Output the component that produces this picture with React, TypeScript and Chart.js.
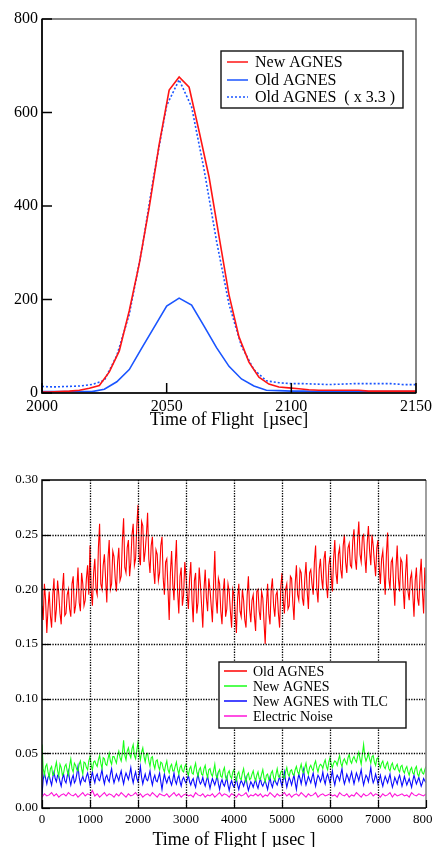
import React, { useEffect, useRef } from "react";
import { Chart, registerables } from "chart.js";

Chart.register(...registerables);

const SERIF = "'Liberation Serif', 'Times New Roman', serif";

// ---------------- Top chart: peak profile ----------------
const peakTimeNew = [
  1999, 2003, 2007, 2011, 2015, 2019, 2023, 2027, 2031, 2035, 2039, 2043, 2047,
  2051, 2055, 2059, 2063, 2067, 2071, 2075, 2079, 2083, 2087, 2091, 2095, 2099,
  2103, 2107, 2111, 2115, 2119, 2123, 2127, 2131, 2135, 2139, 2143, 2147, 2151,
];
const peakNewAgnes = [
  2, 2, 3, 4, 6, 10, 16, 45, 90, 176, 276, 397, 532,
  648, 676, 654, 560, 462, 335, 210, 120, 66, 34, 19, 13, 11,
  9, 7, 6, 6, 6, 6, 6, 4, 4, 4, 4, 4, 4,
];
const peakTimeOld = [
  2000, 2005, 2010, 2015, 2020, 2025, 2030, 2035, 2040, 2045, 2050, 2055, 2060,
  2065, 2070, 2075, 2080, 2085, 2090, 2095, 2100, 2105, 2110, 2115, 2120, 2125,
  2130, 2135, 2140, 2145, 2150,
];
const peakOldAgnes = [
  3, 3, 3, 3, 3, 8, 24, 50, 96, 141, 186, 203, 188,
  143, 97, 57, 30, 15, 6, 5, 4, 4, 3, 3, 3, 3,
  3, 3, 3, 3, 3,
];
const peakOldAgnesX33 = [
  14, 13, 14, 15, 18, 27, 80, 168, 305, 470, 615, 670, 612,
  478, 325, 190, 100, 50, 26, 22, 20, 20, 19, 18, 19, 20,
  20, 20, 20, 18, 18,
];
const peakXTicks = [2000, 2050, 2100, 2150];
const peakYTicks = [0, 200, 400, 600, 800];
const peakLegend = ["New AGNES", "Old AGNES", "Old AGNES  ( x 3.3 )"];

// ---------------- Bottom chart: noise ----------------
const noiseTimeFine = [
  0, 25, 50, 75, 100, 125, 150, 175, 200, 225, 250, 275, 300, 325, 350, 375, 400, 425, 450, 475,
  500, 525, 550, 575, 600, 625, 650, 675, 700, 725, 750, 775, 800, 825, 850, 875, 900, 925, 950, 975,
  1000, 1025, 1050, 1075, 1100, 1125, 1150, 1175, 1200, 1225, 1250, 1275, 1300, 1325, 1350, 1375, 1400, 1425, 1450, 1475,
  1500, 1525, 1550, 1575, 1600, 1625, 1650, 1675, 1700, 1725, 1750, 1775, 1800, 1825, 1850, 1875, 1900, 1925, 1950, 1975,
  2000, 2025, 2050, 2075, 2100, 2125, 2150, 2175, 2200, 2225, 2250, 2275, 2300, 2325, 2350, 2375, 2400, 2425, 2450, 2475,
  2500, 2525, 2550, 2575, 2600, 2625, 2650, 2675, 2700, 2725, 2750, 2775, 2800, 2825, 2850, 2875, 2900, 2925, 2950, 2975,
  3000, 3025, 3050, 3075, 3100, 3125, 3150, 3175, 3200, 3225, 3250, 3275, 3300, 3325, 3350, 3375, 3400, 3425, 3450, 3475,
  3500, 3525, 3550, 3575, 3600, 3625, 3650, 3675, 3700, 3725, 3750, 3775, 3800, 3825, 3850, 3875, 3900, 3925, 3950, 3975,
  4000, 4025, 4050, 4075, 4100, 4125, 4150, 4175, 4200, 4225, 4250, 4275, 4300, 4325, 4350, 4375, 4400, 4425, 4450, 4475,
  4500, 4525, 4550, 4575, 4600, 4625, 4650, 4675, 4700, 4725, 4750, 4775, 4800, 4825, 4850, 4875, 4900, 4925, 4950, 4975,
  5000, 5025, 5050, 5075, 5100, 5125, 5150, 5175, 5200, 5225, 5250, 5275, 5300, 5325, 5350, 5375, 5400, 5425, 5450, 5475,
  5500, 5525, 5550, 5575, 5600, 5625, 5650, 5675, 5700, 5725, 5750, 5775, 5800, 5825, 5850, 5875, 5900, 5925, 5950, 5975,
  6000, 6025, 6050, 6075, 6100, 6125, 6150, 6175, 6200, 6225, 6250, 6275, 6300, 6325, 6350, 6375, 6400, 6425, 6450, 6475,
  6500, 6525, 6550, 6575, 6600, 6625, 6650, 6675, 6700, 6725, 6750, 6775, 6800, 6825, 6850, 6875, 6900, 6925, 6950, 6975,
  7000, 7025, 7050, 7075, 7100, 7125, 7150, 7175, 7200, 7225, 7250, 7275, 7300, 7325, 7350, 7375, 7400, 7425, 7450, 7475,
  7500, 7525, 7550, 7575, 7600, 7625, 7650, 7675, 7700, 7725, 7750, 7775, 7800, 7825, 7850, 7875, 7900, 7925, 7950, 7975,
  8000,
];
const noiseOldAgnes = [
  0.185, 0.172, 0.205, 0.190, 0.160, 0.182, 0.198, 0.176, 0.165, 0.195, 0.210, 0.170, 0.182, 0.208, 0.195, 0.178, 0.168, 0.200, 0.215, 0.176,
  0.178, 0.195, 0.200, 0.182, 0.175, 0.205, 0.212, 0.178, 0.185, 0.200, 0.220, 0.188, 0.180, 0.215, 0.205, 0.185, 0.190, 0.210, 0.222, 0.195,
  0.240, 0.198, 0.185, 0.215, 0.228, 0.200, 0.195, 0.238, 0.260, 0.205, 0.200, 0.222, 0.232, 0.210, 0.188, 0.228, 0.245, 0.200, 0.205, 0.235,
  0.230, 0.210, 0.198, 0.225, 0.238, 0.208, 0.212, 0.245, 0.265, 0.220, 0.215, 0.238, 0.245, 0.212, 0.225, 0.250, 0.260, 0.222, 0.228, 0.258,
  0.277, 0.230, 0.222, 0.262, 0.258, 0.225, 0.235, 0.250, 0.270, 0.228, 0.215, 0.240, 0.248, 0.218, 0.205, 0.236, 0.232, 0.208, 0.215, 0.240,
  0.248, 0.210, 0.195, 0.225, 0.228, 0.200, 0.172, 0.215, 0.235, 0.205, 0.190, 0.222, 0.245, 0.198, 0.178, 0.212, 0.220, 0.185, 0.195, 0.225,
  0.212, 0.195, 0.182, 0.210, 0.225, 0.190, 0.170, 0.208, 0.215, 0.178, 0.188, 0.220, 0.205, 0.185, 0.165, 0.200, 0.218, 0.192, 0.180, 0.210,
  0.200, 0.185, 0.170, 0.205, 0.235, 0.192, 0.178, 0.210, 0.205, 0.180, 0.168, 0.198, 0.210, 0.175, 0.182, 0.205, 0.198, 0.180, 0.165, 0.200,
  0.195, 0.178, 0.160, 0.192, 0.205, 0.180, 0.175, 0.200, 0.190, 0.172, 0.165, 0.195, 0.212, 0.182, 0.170, 0.190, 0.195, 0.175, 0.162, 0.198,
  0.200, 0.180, 0.172, 0.198, 0.192, 0.170, 0.150, 0.185, 0.205, 0.178, 0.168, 0.200, 0.210, 0.185, 0.175, 0.195, 0.198, 0.178, 0.165, 0.202,
  0.215, 0.190, 0.178, 0.200, 0.205, 0.182, 0.185, 0.212, 0.210, 0.188, 0.172, 0.205, 0.222, 0.195, 0.190, 0.218, 0.215, 0.192, 0.185, 0.210,
  0.225, 0.198, 0.182, 0.215, 0.218, 0.205, 0.195, 0.225, 0.240, 0.200, 0.188, 0.218, 0.228, 0.210, 0.200, 0.228, 0.235, 0.205, 0.192, 0.222,
  0.230, 0.212, 0.198, 0.228, 0.245, 0.215, 0.205, 0.232, 0.238, 0.218, 0.210, 0.240, 0.250, 0.225, 0.215, 0.238, 0.242, 0.222, 0.220, 0.245,
  0.255, 0.228, 0.218, 0.245, 0.262, 0.232, 0.225, 0.248, 0.250, 0.230, 0.215, 0.242, 0.258, 0.235, 0.222, 0.250, 0.240, 0.225, 0.212, 0.238,
  0.245, 0.220, 0.205, 0.228, 0.235, 0.215, 0.195, 0.232, 0.252, 0.210, 0.200, 0.225, 0.228, 0.205, 0.185, 0.220, 0.240, 0.210, 0.198, 0.228,
  0.225, 0.200, 0.182, 0.215, 0.232, 0.198, 0.190, 0.210, 0.215, 0.195, 0.175, 0.208, 0.220, 0.192, 0.185, 0.212, 0.228, 0.198, 0.178, 0.220,
  0.205,
];
const noiseNewAgnes = [
  0.058, 0.036, 0.030, 0.038, 0.040, 0.033, 0.028, 0.036, 0.038, 0.030, 0.031, 0.037, 0.042, 0.034, 0.029, 0.040, 0.037, 0.030, 0.032, 0.038,
  0.040, 0.034, 0.030, 0.039, 0.045, 0.036, 0.033, 0.041, 0.039, 0.035, 0.034, 0.040, 0.043, 0.036, 0.031, 0.042, 0.041, 0.037, 0.035, 0.043,
  0.047, 0.039, 0.035, 0.042, 0.043, 0.040, 0.038, 0.044, 0.048, 0.041, 0.036, 0.046, 0.045, 0.040, 0.039, 0.045, 0.050, 0.043, 0.040, 0.047,
  0.047, 0.044, 0.041, 0.048, 0.052, 0.046, 0.043, 0.050, 0.062, 0.048, 0.044, 0.052, 0.055, 0.049, 0.046, 0.054, 0.058, 0.048, 0.045, 0.053,
  0.060, 0.050, 0.044, 0.051, 0.055, 0.047, 0.042, 0.049, 0.050, 0.043, 0.038, 0.046, 0.047, 0.040, 0.036, 0.043, 0.044, 0.038, 0.035, 0.042,
  0.041, 0.036, 0.033, 0.039, 0.043, 0.035, 0.032, 0.038, 0.040, 0.034, 0.034, 0.038, 0.042, 0.035, 0.031, 0.037, 0.039, 0.034, 0.033, 0.038,
  0.040, 0.033, 0.030, 0.036, 0.038, 0.032, 0.031, 0.037, 0.041, 0.033, 0.029, 0.035, 0.037, 0.031, 0.030, 0.036, 0.039, 0.032, 0.028, 0.035,
  0.036, 0.031, 0.029, 0.034, 0.040, 0.030, 0.027, 0.033, 0.035, 0.029, 0.028, 0.034, 0.037, 0.028, 0.026, 0.032, 0.034, 0.029, 0.027, 0.033,
  0.035, 0.028, 0.025, 0.031, 0.033, 0.027, 0.026, 0.032, 0.036, 0.028, 0.024, 0.030, 0.032, 0.026, 0.027, 0.031, 0.034, 0.028, 0.025, 0.030,
  0.033, 0.027, 0.026, 0.031, 0.035, 0.028, 0.024, 0.030, 0.031, 0.026, 0.027, 0.032, 0.034, 0.028, 0.025, 0.031, 0.036, 0.029, 0.028, 0.033,
  0.034, 0.029, 0.027, 0.033, 0.037, 0.031, 0.029, 0.034, 0.035, 0.031, 0.030, 0.035, 0.038, 0.033, 0.031, 0.036, 0.040, 0.034, 0.032, 0.037,
  0.041, 0.034, 0.031, 0.037, 0.039, 0.036, 0.034, 0.040, 0.043, 0.037, 0.033, 0.038, 0.040, 0.039, 0.036, 0.041, 0.044, 0.038, 0.035, 0.042,
  0.046, 0.040, 0.037, 0.041, 0.043, 0.042, 0.039, 0.044, 0.048, 0.041, 0.038, 0.043, 0.045, 0.042, 0.040, 0.046, 0.049, 0.043, 0.041, 0.045,
  0.047, 0.044, 0.042, 0.047, 0.051, 0.045, 0.040, 0.049, 0.058, 0.047, 0.043, 0.046, 0.050, 0.045, 0.041, 0.047, 0.048, 0.042, 0.039, 0.045,
  0.046, 0.040, 0.037, 0.041, 0.043, 0.038, 0.036, 0.040, 0.042, 0.036, 0.034, 0.039, 0.041, 0.036, 0.035, 0.038, 0.040, 0.035, 0.033, 0.038,
  0.039, 0.034, 0.032, 0.036, 0.038, 0.033, 0.030, 0.035, 0.037, 0.032, 0.031, 0.036, 0.038, 0.031, 0.029, 0.034, 0.036, 0.032, 0.031, 0.035,
  0.038,
];
const noiseNewAgnesTLC = [
  0.012, 0.026, 0.032, 0.027, 0.022, 0.028, 0.030, 0.025, 0.021, 0.028, 0.033, 0.027, 0.024, 0.030, 0.029, 0.024, 0.020, 0.027, 0.031, 0.025,
  0.023, 0.029, 0.034, 0.026, 0.021, 0.027, 0.030, 0.023, 0.025, 0.031, 0.038, 0.028, 0.022, 0.026, 0.029, 0.025, 0.024, 0.029, 0.032, 0.027,
  0.021, 0.028, 0.033, 0.027, 0.023, 0.029, 0.031, 0.026, 0.025, 0.030, 0.035, 0.027, 0.022, 0.028, 0.030, 0.026, 0.024, 0.031, 0.036, 0.028,
  0.023, 0.027, 0.031, 0.028, 0.025, 0.030, 0.034, 0.027, 0.022, 0.028, 0.032, 0.029, 0.026, 0.031, 0.037, 0.028, 0.023, 0.029, 0.033, 0.027,
  0.024, 0.030, 0.038, 0.028, 0.022, 0.027, 0.031, 0.026, 0.025, 0.029, 0.034, 0.026, 0.021, 0.027, 0.030, 0.025, 0.024, 0.028, 0.032, 0.024,
  0.017, 0.025, 0.031, 0.026, 0.023, 0.027, 0.029, 0.024, 0.021, 0.026, 0.032, 0.025, 0.022, 0.027, 0.030, 0.024, 0.020, 0.026, 0.028, 0.025,
  0.023, 0.026, 0.030, 0.024, 0.021, 0.025, 0.027, 0.022, 0.019, 0.026, 0.031, 0.025, 0.022, 0.024, 0.028, 0.023, 0.020, 0.025, 0.029, 0.023,
  0.018, 0.023, 0.027, 0.024, 0.021, 0.025, 0.030, 0.022, 0.017, 0.023, 0.026, 0.022, 0.020, 0.024, 0.028, 0.021, 0.016, 0.022, 0.025, 0.021,
  0.019, 0.022, 0.027, 0.021, 0.017, 0.022, 0.025, 0.023, 0.020, 0.024, 0.028, 0.021, 0.016, 0.020, 0.024, 0.022, 0.019, 0.023, 0.026, 0.021,
  0.018, 0.023, 0.027, 0.022, 0.020, 0.023, 0.025, 0.021, 0.017, 0.023, 0.028, 0.022, 0.019, 0.024, 0.026, 0.023, 0.021, 0.025, 0.029, 0.024,
  0.020, 0.026, 0.033, 0.025, 0.019, 0.024, 0.028, 0.025, 0.021, 0.026, 0.030, 0.023, 0.017, 0.025, 0.031, 0.027, 0.022, 0.028, 0.035, 0.026,
  0.021, 0.025, 0.029, 0.026, 0.023, 0.028, 0.032, 0.025, 0.020, 0.026, 0.030, 0.028, 0.024, 0.027, 0.033, 0.026, 0.022, 0.028, 0.031, 0.027,
  0.023, 0.029, 0.034, 0.026, 0.021, 0.027, 0.030, 0.028, 0.025, 0.031, 0.036, 0.027, 0.022, 0.026, 0.031, 0.028, 0.024, 0.029, 0.033, 0.027,
  0.022, 0.027, 0.032, 0.029, 0.025, 0.030, 0.035, 0.027, 0.021, 0.026, 0.030, 0.028, 0.024, 0.030, 0.037, 0.028, 0.023, 0.026, 0.031, 0.027,
  0.022, 0.026, 0.030, 0.024, 0.020, 0.025, 0.029, 0.026, 0.023, 0.027, 0.031, 0.024, 0.019, 0.023, 0.028, 0.025, 0.022, 0.027, 0.030, 0.025,
  0.020, 0.024, 0.029, 0.025, 0.021, 0.024, 0.027, 0.023, 0.019, 0.025, 0.030, 0.026, 0.022, 0.025, 0.028, 0.024, 0.020, 0.023, 0.027, 0.025,
  0.023,
];
const noiseTimeCoarse = [
  0, 50, 100, 150, 200, 250, 300, 350, 400, 450,
  500, 550, 600, 650, 700, 750, 800, 850, 900, 950,
  1000, 1050, 1100, 1150, 1200, 1250, 1300, 1350, 1400, 1450,
  1500, 1550, 1600, 1650, 1700, 1750, 1800, 1850, 1900, 1950,
  2000, 2050, 2100, 2150, 2200, 2250, 2300, 2350, 2400, 2450,
  2500, 2550, 2600, 2650, 2700, 2750, 2800, 2850, 2900, 2950,
  3000, 3050, 3100, 3150, 3200, 3250, 3300, 3350, 3400, 3450,
  3500, 3550, 3600, 3650, 3700, 3750, 3800, 3850, 3900, 3950,
  4000, 4050, 4100, 4150, 4200, 4250, 4300, 4350, 4400, 4450,
  4500, 4550, 4600, 4650, 4700, 4750, 4800, 4850, 4900, 4950,
  5000, 5050, 5100, 5150, 5200, 5250, 5300, 5350, 5400, 5450,
  5500, 5550, 5600, 5650, 5700, 5750, 5800, 5850, 5900, 5950,
  6000, 6050, 6100, 6150, 6200, 6250, 6300, 6350, 6400, 6450,
  6500, 6550, 6600, 6650, 6700, 6750, 6800, 6850, 6900, 6950,
  7000, 7050, 7100, 7150, 7200, 7250, 7300, 7350, 7400, 7450,
  7500, 7550, 7600, 7650, 7700, 7750, 7800, 7850, 7900, 7950,
  8000,
];
const noiseElectric = [
  0.010, 0.013, 0.011, 0.012, 0.014, 0.011, 0.013, 0.010, 0.012, 0.013,
  0.011, 0.014, 0.012, 0.011, 0.013, 0.010, 0.012, 0.014, 0.011, 0.013,
  0.012, 0.016, 0.011, 0.013, 0.010, 0.012, 0.014, 0.011, 0.013, 0.012,
  0.010, 0.013, 0.011, 0.014, 0.012, 0.010, 0.013, 0.011, 0.012, 0.014,
  0.011, 0.013, 0.010, 0.012, 0.013, 0.011, 0.014, 0.012, 0.010, 0.013,
  0.012, 0.011, 0.013, 0.010, 0.012, 0.014, 0.011, 0.013, 0.010, 0.012,
  0.013, 0.011, 0.012, 0.010, 0.014, 0.012, 0.011, 0.013, 0.010, 0.012,
  0.011, 0.013, 0.010, 0.012, 0.014, 0.011, 0.013, 0.012, 0.010, 0.013,
  0.012, 0.010, 0.013, 0.011, 0.012, 0.014, 0.010, 0.012, 0.011, 0.013,
  0.011, 0.013, 0.010, 0.012, 0.011, 0.014, 0.012, 0.010, 0.013, 0.011,
  0.012, 0.014, 0.011, 0.013, 0.010, 0.012, 0.013, 0.011, 0.014, 0.012,
  0.010, 0.013, 0.011, 0.012, 0.014, 0.010, 0.012, 0.013, 0.011, 0.012,
  0.013, 0.011, 0.012, 0.010, 0.014, 0.012, 0.011, 0.013, 0.010, 0.012,
  0.011, 0.014, 0.012, 0.010, 0.013, 0.011, 0.012, 0.014, 0.011, 0.013,
  0.012, 0.010, 0.013, 0.011, 0.012, 0.014, 0.010, 0.013, 0.011, 0.012,
  0.013, 0.011, 0.012, 0.010, 0.014, 0.012, 0.011, 0.013, 0.012, 0.011,
  0.013,
];
const noiseXTicks = [0, 1000, 2000, 3000, 4000, 5000, 6000, 7000, 8000];
const noiseYTicks = [0, 0.05, 0.1, 0.15, 0.2, 0.25, 0.3];
const noiseLegend = ["Old AGNES", "New AGNES", "New AGNES with TLC", "Electric Noise"];

const RED = "#ff1414";
const BLUE_TOP = "#1a55ff";
const N_RED = "#ff0000";
const N_GREEN = "#19ff19";
const N_BLUE = "#0a0aff";
const N_MAGENTA = "#ff14d8";

const toPoints = (xs: number[], ys: number[]) => xs.map((x, i) => ({ x, y: ys[i] }));

function line(ctx: CanvasRenderingContext2D, x1: number, y1: number, x2: number, y2: number) {
  ctx.beginPath();
  ctx.moveTo(x1, y1);
  ctx.lineTo(x2, y2);
  ctx.stroke();
}

type LegendItem = { text: string; color: string; dash: number[] };

function drawLegend(
  ctx: CanvasRenderingContext2D,
  box: { x: number; y: number; w: number; h: number },
  items: LegendItem[],
  rows: number[],
  lineX: [number, number],
  textX: number,
  fontSize: number
) {
  ctx.save();
  ctx.setLineDash([]);
  ctx.fillStyle = "#fff";
  ctx.fillRect(box.x, box.y, box.w, box.h);
  ctx.strokeStyle = "#111";
  ctx.lineWidth = 1.4;
  ctx.strokeRect(box.x, box.y, box.w, box.h);
  ctx.font = `${fontSize}px ${SERIF}`;
  ctx.textBaseline = "middle";
  ctx.textAlign = "left";
  items.forEach((it, i) => {
    const y = rows[i];
    ctx.strokeStyle = it.color;
    ctx.lineWidth = 1.5;
    ctx.setLineDash(it.dash);
    line(ctx, lineX[0], y, lineX[1], y);
    ctx.setLineDash([]);
    ctx.fillStyle = "#000";
    ctx.fillText(it.text, textX, y + 1);
  });
  ctx.restore();
}

const peakDecor = {
  id: "peakDecor",
  afterDatasetsDraw(chart: any) {
    const { ctx, chartArea: a, scales } = chart;
    const xs = scales.x;
    const ys = scales.y;
    ctx.save();
    ctx.setLineDash([]);
    ctx.strokeStyle = "#444";
    ctx.lineWidth = 1.3;
    ctx.strokeRect(a.left, a.top, a.right - a.left, a.bottom - a.top);
    ctx.strokeStyle = "#000";
    ctx.lineWidth = 1.6;
    ctx.beginPath();
    ctx.moveTo(a.left, a.top);
    ctx.lineTo(a.left, a.bottom);
    ctx.lineTo(a.right, a.bottom);
    ctx.stroke();
    ctx.lineWidth = 1.5;
    for (const v of peakYTicks) {
      const py = ys.getPixelForValue(v);
      line(ctx, a.left, py, a.left + 10, py);
    }
    for (const v of peakXTicks) {
      const px = xs.getPixelForValue(v);
      line(ctx, px, a.bottom, px, a.bottom - 10);
    }
    ctx.restore();
    drawLegend(
      ctx,
      { x: 221, y: 51, w: 182, h: 57 },
      [
        { text: peakLegend[0], color: RED, dash: [] },
        { text: peakLegend[1], color: BLUE_TOP, dash: [] },
        { text: peakLegend[2], color: BLUE_TOP, dash: [2, 2] },
      ],
      [62, 80, 97],
      [227, 248],
      255,
      16
    );
  },
};

const noiseDecor = {
  id: "noiseDecor",
  afterDatasetsDraw(chart: any) {
    const { ctx, chartArea: a, scales } = chart;
    const xs = scales.x;
    const ys = scales.y;
    ctx.save();
    ctx.strokeStyle = "#000";
    ctx.lineWidth = 1.3;
    ctx.setLineDash([1.3, 1.3]);
    for (const v of noiseXTicks) {
      const px = Math.round(xs.getPixelForValue(v)) + 0.5;
      if (px > a.left + 2 && px < a.right - 2) line(ctx, px, a.top, px, a.bottom);
    }
    for (const v of noiseYTicks) {
      const py = Math.round(ys.getPixelForValue(v)) + 0.5;
      if (py > a.top + 2 && py < a.bottom - 2) line(ctx, a.left, py, a.right, py);
    }
    ctx.setLineDash([]);
    ctx.strokeStyle = "#888";
    ctx.lineWidth = 1.6;
    line(ctx, a.right, a.top, a.right, a.bottom);
    ctx.strokeStyle = "#000";
    ctx.lineWidth = 1.5;
    ctx.beginPath();
    ctx.moveTo(a.right, a.top);
    ctx.lineTo(a.left, a.top);
    ctx.lineTo(a.left, a.bottom);
    ctx.lineTo(a.right, a.bottom);
    ctx.stroke();
    ctx.lineWidth = 1.2;
    for (const v of noiseYTicks) {
      const py = Math.round(ys.getPixelForValue(v)) + 0.5;
      line(ctx, a.left, py, a.left + 8, py);
    }
    for (const v of noiseXTicks) {
      const px = Math.round(xs.getPixelForValue(v)) + 0.5;
      line(ctx, px, a.bottom, px, a.bottom - 8);
    }
    ctx.restore();
    drawLegend(
      ctx,
      { x: 219, y: 230, w: 187, h: 66 },
      [
        { text: noiseLegend[0], color: N_RED, dash: [] },
        { text: noiseLegend[1], color: N_GREEN, dash: [] },
        { text: noiseLegend[2], color: N_BLUE, dash: [] },
        { text: noiseLegend[3], color: N_MAGENTA, dash: [] },
      ],
      [239, 254, 269, 284],
      [224, 247],
      253,
      14
    );
  },
};

const noPad = (s: any) => {
  s.paddingLeft = 0;
  s.paddingRight = 0;
  s.paddingTop = 0;
  s.paddingBottom = 0;
};

function PeakChart() {
  const ref = useRef<HTMLCanvasElement | null>(null);
  useEffect(() => {
    if (!ref.current) return;
    const chart = new Chart(ref.current, {
      type: "line",
      data: {
        datasets: [
          { label: peakLegend[0], data: toPoints(peakTimeNew, peakNewAgnes), borderColor: RED, borderWidth: 1.6, pointRadius: 0, tension: 0, fill: false },
          { label: peakLegend[1], data: toPoints(peakTimeOld, peakOldAgnes), borderColor: BLUE_TOP, borderWidth: 1.6, pointRadius: 0, tension: 0, fill: false },
          { label: peakLegend[2], data: toPoints(peakTimeOld, peakOldAgnesX33), borderColor: BLUE_TOP, borderWidth: 1.6, borderDash: [2, 2], pointRadius: 0, tension: 0, fill: false },
        ],
      } as any,
      options: {
        animation: false,
        responsive: false,
        events: [],
        layout: { padding: { top: 19, right: 16, left: 0, bottom: 0 }, autoPadding: false } as any,
        plugins: { legend: { display: false }, tooltip: { enabled: false } },
        scales: {
          x: {
            type: "linear",
            min: 2000,
            max: 2150,
            afterBuildTicks: (s: any) => { s.ticks = peakXTicks.map((v) => ({ value: v })); },
            afterFit: (s: any) => { s.height = 39; noPad(s); },
            grid: { display: false, drawTicks: false },
            border: { display: false },
            ticks: { color: "#000", font: { family: SERIF, size: 16 }, padding: 4, maxRotation: 0, autoSkip: false, callback: (v: any) => String(v) },
            title: { display: true, text: "Time of Flight  [µsec]", color: "#000", font: { family: SERIF, size: 18 }, padding: { top: 0, bottom: 1 } },
          },
          y: {
            type: "linear",
            min: 0,
            max: 800,
            afterBuildTicks: (s: any) => { s.ticks = peakYTicks.map((v) => ({ value: v })); },
            afterFit: (s: any) => { s.width = 42; noPad(s); },
            grid: { display: false, drawTicks: false },
            border: { display: false },
            ticks: { color: "#000", font: { family: SERIF, size: 16 }, padding: 4, autoSkip: false, callback: (v: any) => String(v) },
          },
        },
      } as any,
      plugins: [peakDecor],
    });
    return () => chart.destroy();
  }, []);
  return <canvas ref={ref} width={432} height={432} style={{ position: "absolute", left: 0, top: 0, width: 432, height: 432 }} />;
}

function NoiseChart() {
  const ref = useRef<HTMLCanvasElement | null>(null);
  useEffect(() => {
    if (!ref.current) return;
    const chart = new Chart(ref.current, {
      type: "line",
      data: {
        datasets: [
          { label: noiseLegend[0], data: toPoints(noiseTimeFine, noiseOldAgnes), borderColor: N_RED, borderWidth: 1.1, pointRadius: 0, tension: 0, fill: false },
          { label: noiseLegend[1], data: toPoints(noiseTimeFine, noiseNewAgnes), borderColor: N_GREEN, borderWidth: 1.1, pointRadius: 0, tension: 0, fill: false },
          { label: noiseLegend[2], data: toPoints(noiseTimeFine, noiseNewAgnesTLC), borderColor: N_BLUE, borderWidth: 1.1, pointRadius: 0, tension: 0, fill: false },
          { label: noiseLegend[3], data: toPoints(noiseTimeCoarse, noiseElectric), borderColor: N_MAGENTA, borderWidth: 1.1, pointRadius: 0, tension: 0, fill: false },
        ],
      } as any,
      options: {
        animation: false,
        responsive: false,
        events: [],
        layout: { padding: { top: 48, right: 6, left: 0, bottom: 0 }, autoPadding: false } as any,
        plugins: { legend: { display: false }, tooltip: { enabled: false } },
        scales: {
          x: {
            type: "linear",
            min: 0,
            max: 8000,
            afterBuildTicks: (s: any) => { s.ticks = noiseXTicks.map((v) => ({ value: v })); },
            afterFit: (s: any) => { s.height = 49; noPad(s); },
            grid: { display: false, drawTicks: false },
            border: { display: false },
            ticks: { color: "#000", font: { family: SERIF, size: 13 }, padding: 4, maxRotation: 0, autoSkip: false, callback: (v: any) => String(v) },
            title: { display: true, text: "Time of Flight [ µsec ]", color: "#000", font: { family: SERIF, size: 18 }, padding: { top: 0, bottom: 6 } },
          },
          y: {
            type: "linear",
            min: 0,
            max: 0.3,
            afterBuildTicks: (s: any) => { s.ticks = noiseYTicks.map((v) => ({ value: v })); },
            afterFit: (s: any) => { s.width = 42; noPad(s); },
            grid: { display: false, drawTicks: false },
            border: { display: false },
            ticks: { color: "#000", font: { family: SERIF, size: 13 }, padding: 4, autoSkip: false, callback: (v: any) => Number(v).toFixed(2) },
          },
        },
      } as any,
      plugins: [noiseDecor],
    });
    return () => chart.destroy();
  }, []);
  return <canvas ref={ref} width={432} height={425} style={{ position: "absolute", left: 0, top: 432, width: 432, height: 425 }} />;
}

export default function App() {
  return (
    <div style={{ position: "fixed", left: 0, top: 0, width: 432, height: 847, overflow: "hidden", background: "#fff" }}>
      <PeakChart />
      <NoiseChart />
    </div>
  );
}
